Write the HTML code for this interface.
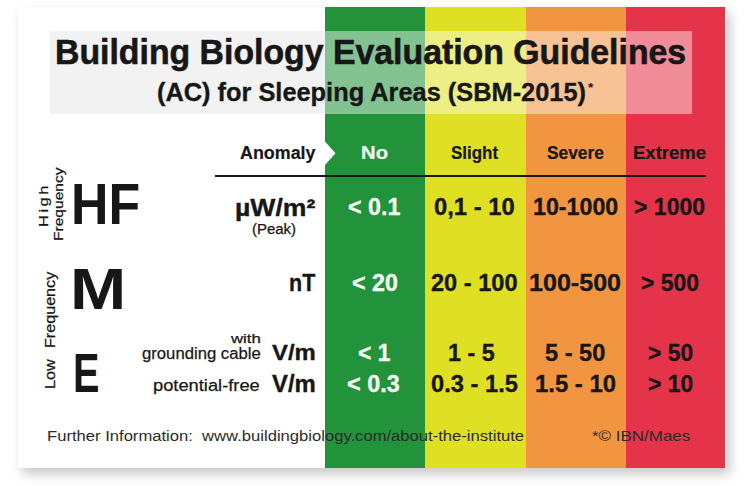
<!DOCTYPE html>
<html><head><meta charset="utf-8">
<style>
html,body{margin:0;padding:0;background:#fff;}
body{width:745px;height:486px;position:relative;overflow:hidden;font-family:"Liberation Sans",sans-serif;}
.card{position:absolute;left:18px;top:7px;width:708px;height:461px;background:#fff;box-shadow:4px 6px 11px rgba(0,0,0,0.22);}
.col{position:absolute;top:7px;height:461px;}
.t{position:absolute;white-space:pre;transform-origin:0 0;}
.tb{position:absolute;top:31px;height:82.5px;}
.line{position:absolute;left:215px;top:174.5px;width:491px;height:2px;background:#1a1a1a;}
</style></head><body>
<div class="card"></div>
<div class="col" style="left:325px;width:100px;background:#23933b"></div>
<div class="col" style="left:425px;width:101px;background:#dfe023"></div>
<div class="col" style="left:526px;width:100px;background:#f29540"></div>
<div class="col" style="left:626px;width:98.5px;background:#e5344a"></div>
<div class="tb" style="left:50px;width:275px;background:#f2f2f2"></div><div class="tb" style="left:325px;width:367px;background:rgba(255,255,255,0.44)"></div>
<div class="line"></div>
<svg style="position:absolute;left:0;top:0" width="745" height="486"><polygon points="324.5,141 335.5,153.3 324.5,165.5" fill="#fff"/></svg>
<span class="t" style="left:54.59px;top:34.59px;font-size:35.56px;line-height:35.56px;font-weight:bold;color:#171717;transform:scaleX(0.9511);-webkit-text-stroke:0.60px #171717">Building Biology Evaluation Guidelines</span>
<span class="t" style="left:156.53px;top:78.70px;font-size:26.67px;line-height:26.67px;font-weight:bold;color:#171717;transform:scaleX(0.9516);-webkit-text-stroke:0.35px #171717">(AC) for Sleeping Areas (SBM-2015)</span>
<span class="t" style="left:587.54px;top:81.57px;font-size:12.80px;line-height:12.80px;font-weight:bold;color:#171717;transform:scaleX(1.0600)">*</span>
<span class="t" style="left:239.54px;top:143.72px;font-size:18.63px;line-height:18.63px;font-weight:bold;color:#171717;transform:scaleX(0.9604);-webkit-text-stroke:0.20px #171717">Anomaly</span>
<span class="t" style="left:360.56px;top:143.64px;font-size:18.06px;line-height:18.06px;font-weight:bold;color:#f3f8f2;transform:scaleX(1.1227);-webkit-text-stroke:0.20px #f3f8f2">No</span>
<span class="t" style="left:450.57px;top:143.50px;font-size:18.06px;line-height:18.06px;font-weight:bold;color:#171717;transform:scaleX(0.9399);-webkit-text-stroke:0.20px #171717">Slight</span>
<span class="t" style="left:546.62px;top:143.64px;font-size:18.06px;line-height:18.06px;font-weight:bold;color:#171717;transform:scaleX(0.9603);-webkit-text-stroke:0.20px #171717">Severe</span>
<span class="t" style="left:632.54px;top:144.73px;font-size:17.78px;line-height:17.78px;font-weight:bold;color:#171717;transform:scaleX(1.0421);-webkit-text-stroke:0.20px #171717">Extreme</span>
<span class="t" style="left:70.51px;top:175.70px;font-size:57.17px;line-height:57.17px;font-weight:bold;color:#171717;transform:scaleX(0.9072)">HF</span>
<span class="t" style="left:69.69px;top:259.73px;font-size:58.03px;line-height:58.03px;font-weight:bold;color:#171717;transform:scaleX(1.1629)">M</span>
<span class="t" style="left:72.75px;top:344.54px;font-size:55.89px;line-height:55.89px;font-weight:bold;color:#171717;transform:scaleX(0.7087)">E</span>
<span class="t" style="left:234.53px;top:196.52px;font-size:23.68px;line-height:23.68px;font-weight:bold;color:#171717;transform:scaleX(1.1237);-webkit-text-stroke:0.35px #171717">µW/m²</span>
<span class="t" style="left:251.64px;top:221.68px;font-size:14.29px;line-height:14.29px;font-weight:normal;color:#171717;transform:scaleX(1.0482);-webkit-text-stroke:0.25px #171717">(Peak)</span>
<span class="t" style="left:288.68px;top:270.71px;font-size:24.53px;line-height:24.53px;font-weight:bold;color:#171717;transform:scaleX(0.8784);-webkit-text-stroke:0.35px #171717">nT</span>
<span class="t" style="left:230.61px;top:331.51px;font-size:13.14px;line-height:13.14px;font-weight:normal;color:#171717;transform:scaleX(1.2765);-webkit-text-stroke:0.25px #171717">with</span>
<span class="t" style="left:141.61px;top:345.66px;font-size:16.82px;line-height:16.82px;font-weight:normal;color:#171717;transform:scaleX(0.9922);-webkit-text-stroke:0.25px #171717">grounding cable</span>
<span class="t" style="left:271.70px;top:341.62px;font-size:21.97px;line-height:21.97px;font-weight:bold;color:#171717;transform:scaleX(1.0871);-webkit-text-stroke:0.35px #171717">V/m</span>
<span class="t" style="left:152.69px;top:376.67px;font-size:17.09px;line-height:17.09px;font-weight:normal;color:#171717;transform:scaleX(1.0710);-webkit-text-stroke:0.25px #171717">potential-free</span>
<span class="t" style="left:271.74px;top:372.65px;font-size:23.54px;line-height:23.54px;font-weight:bold;color:#171717;transform:scaleX(1.0148);-webkit-text-stroke:0.35px #171717">V/m</span>
<span class="t" style="left:347.62px;top:194.65px;font-size:24.82px;line-height:24.82px;font-weight:bold;color:#f3f8f2;transform:scaleX(0.9368);-webkit-text-stroke:0.35px #f3f8f2">&lt; 0.1</span>
<span class="t" style="left:433.59px;top:194.65px;font-size:24.82px;line-height:24.82px;font-weight:bold;color:#171717;transform:scaleX(0.9584);-webkit-text-stroke:0.35px #171717">0,1 - 10</span>
<span class="t" style="left:532.58px;top:194.65px;font-size:24.82px;line-height:24.82px;font-weight:bold;color:#171717;transform:scaleX(0.9359);-webkit-text-stroke:0.35px #171717">10-1000</span>
<span class="t" style="left:633.59px;top:194.65px;font-size:24.82px;line-height:24.82px;font-weight:bold;color:#171717;transform:scaleX(0.9283);-webkit-text-stroke:0.35px #171717">&gt; 1000</span>
<span class="t" style="left:351.68px;top:270.57px;font-size:24.39px;line-height:24.39px;font-weight:bold;color:#f3f8f2;transform:scaleX(0.9537);-webkit-text-stroke:0.35px #f3f8f2">&lt; 20</span>
<span class="t" style="left:430.64px;top:270.61px;font-size:24.39px;line-height:24.39px;font-weight:bold;color:#171717;transform:scaleX(0.9681);-webkit-text-stroke:0.35px #171717">20 - 100</span>
<span class="t" style="left:528.67px;top:270.61px;font-size:24.39px;line-height:24.39px;font-weight:bold;color:#171717;transform:scaleX(1.0293);-webkit-text-stroke:0.35px #171717">100-500</span>
<span class="t" style="left:640.73px;top:270.68px;font-size:24.39px;line-height:24.39px;font-weight:bold;color:#171717;transform:scaleX(0.9414);-webkit-text-stroke:0.35px #171717">&gt; 500</span>
<span class="t" style="left:357.60px;top:341.62px;font-size:23.40px;line-height:23.40px;font-weight:bold;color:#f3f8f2;transform:scaleX(0.9777);-webkit-text-stroke:0.35px #f3f8f2">&lt; 1</span>
<span class="t" style="left:447.65px;top:341.74px;font-size:23.40px;line-height:23.40px;font-weight:bold;color:#171717;transform:scaleX(0.9973);-webkit-text-stroke:0.35px #171717">1 - 5</span>
<span class="t" style="left:544.72px;top:341.56px;font-size:23.40px;line-height:23.40px;font-weight:bold;color:#171717;transform:scaleX(1.0092);-webkit-text-stroke:0.35px #171717">5 - 50</span>
<span class="t" style="left:647.64px;top:341.58px;font-size:23.40px;line-height:23.40px;font-weight:bold;color:#171717;transform:scaleX(0.9763);-webkit-text-stroke:0.35px #171717">&gt; 50</span>
<span class="t" style="left:346.73px;top:371.57px;font-size:24.25px;line-height:24.25px;font-weight:bold;color:#f3f8f2;transform:scaleX(0.9663);-webkit-text-stroke:0.35px #f3f8f2">&lt; 0.3</span>
<span class="t" style="left:430.67px;top:371.63px;font-size:24.25px;line-height:24.25px;font-weight:bold;color:#171717;transform:scaleX(0.9765);-webkit-text-stroke:0.35px #171717">0.3 - 1.5</span>
<span class="t" style="left:534.65px;top:371.63px;font-size:24.25px;line-height:24.25px;font-weight:bold;color:#171717;transform:scaleX(0.9852);-webkit-text-stroke:0.35px #171717">1.5 - 10</span>
<span class="t" style="left:647.64px;top:371.63px;font-size:24.25px;line-height:24.25px;font-weight:bold;color:#171717;transform:scaleX(0.9419);-webkit-text-stroke:0.35px #171717">&gt; 10</span>
<span class="t" style="left:46.56px;top:427.51px;font-size:15.50px;line-height:15.50px;font-weight:normal;color:#2b2b2b;transform:scaleX(1.0718)">Further Information:  www.buildingbiology.com/about-the-institute</span>
<span class="t" style="left:591.57px;top:427.56px;font-size:15.50px;line-height:15.50px;font-weight:normal;color:#2b2b2b;transform:scaleX(1.0944)">*© IBN/Maes</span>
<span class="t" style="left:36.90px;top:226.69px;font-size:13.23px;line-height:13.23px;font-weight:normal;color:#171717;letter-spacing:2.0px;-webkit-text-stroke:0.25px #171717;transform:rotate(-90deg) scaleX(1.2474)">High</span>
<span class="t" style="left:51.68px;top:240.62px;font-size:13.37px;line-height:13.37px;font-weight:normal;color:#171717;letter-spacing:0.0px;-webkit-text-stroke:0.25px #171717;transform:rotate(-90deg) scaleX(1.1655)">Frequency</span>
<span class="t" style="left:43.06px;top:389.47px;font-size:14.93px;line-height:14.93px;font-weight:normal;color:#171717;letter-spacing:0.0px;-webkit-text-stroke:0.25px #171717;transform:rotate(-90deg) scaleX(1.0905)">Low</span>
<span class="t" style="left:43.06px;top:347.76px;font-size:14.93px;line-height:14.93px;font-weight:normal;color:#171717;letter-spacing:0.0px;-webkit-text-stroke:0.25px #171717;transform:rotate(-90deg) scaleX(1.0809)">Frequency</span></body></html>
